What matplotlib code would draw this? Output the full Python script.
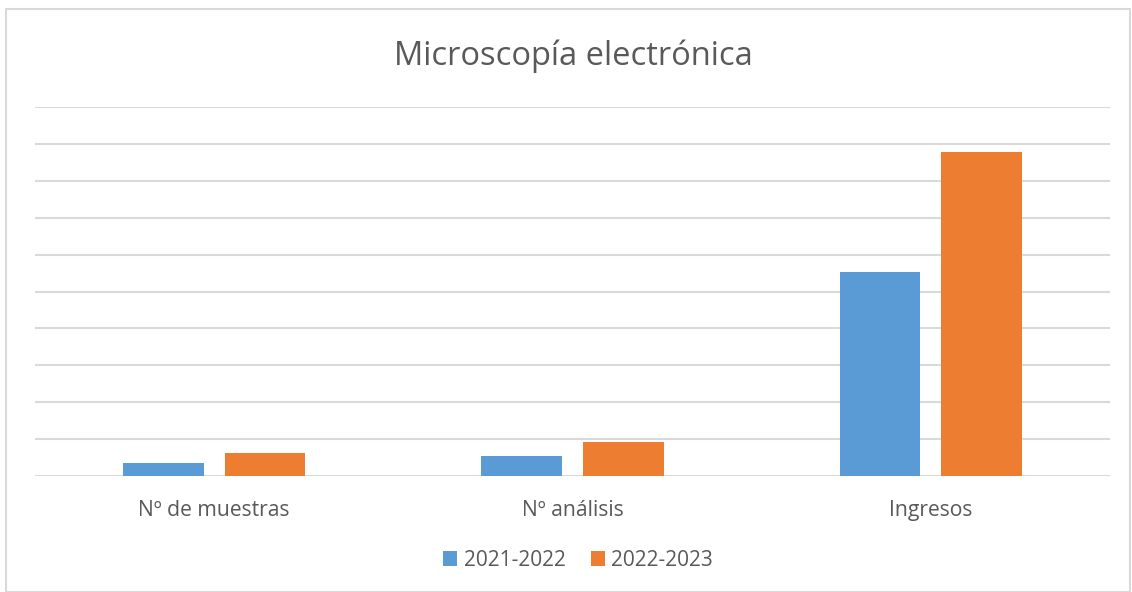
# Microscopía electrónica - comparación de dos cursos

import matplotlib.pyplot as plt
import numpy as np
from matplotlib.patches import Rectangle

categorias = ['Nº de muestras', 'Nº análisis', 'Ingresos']
series = ['2021-2022', '2022-2023']
valores_2122 = [0.35, 0.55, 5.52]
valores_2223 = [0.62, 0.92, 8.78]

azul = '#5B9BD5'
naranja = '#ED7D31'
gris_txt = '#595959'
gris_rej = '#D9D9D9'

plt.rcParams['font.family'] = ['Open Sans', 'DejaVu Sans']

fig = plt.figure(figsize=(11.32, 5.92), dpi=100)
ax = fig.add_axes([35/1132, 1 - 476/592, 1075/1132, 369/592])

x = np.arange(len(categorias))
ancho = 0.225
desp = 0.142
ax.bar(x - desp, valores_2122, ancho, color=azul, label=series[0], zorder=3)
ax.bar(x + desp, valores_2223, ancho, color=naranja, label=series[1], zorder=3)

ax.set_xlim(-0.5, 2.5)
ax.set_ylim(0, 10)
ax.set_yticks(np.arange(0, 11, 1))
ax.yaxis.grid(True, color=gris_rej, linewidth=1.5, zorder=0)
ax.tick_params(axis='y', left=False, labelleft=False)
ax.tick_params(axis='x', length=0, pad=17, labelsize=15.2, labelcolor=gris_txt)
ax.set_xticks(x)
ax.set_xticklabels(categorias)
for s in ax.spines.values():
    s.set_visible(False)

fig.text(573/1132, 1 - 56/592, 'Microscopía electrónica', ha='center', va='center',
         fontsize=23.5, color=gris_txt)

fig.legend(loc='center', bbox_to_anchor=(578/1132, 1 - 560/592), ncol=2,
           frameon=False, fontsize=15, labelcolor=gris_txt,
           handlelength=0.7, handleheight=0.7, handletextpad=0.3, columnspacing=1.2)

# borde del gráfico
fig.patches.append(Rectangle((6/1132, 0), 1124/1132, 1 - 9/592, transform=fig.transFigure,
                             fill=False, edgecolor=gris_rej, linewidth=1.5))

plt.savefig('out.png', dpi=100)
